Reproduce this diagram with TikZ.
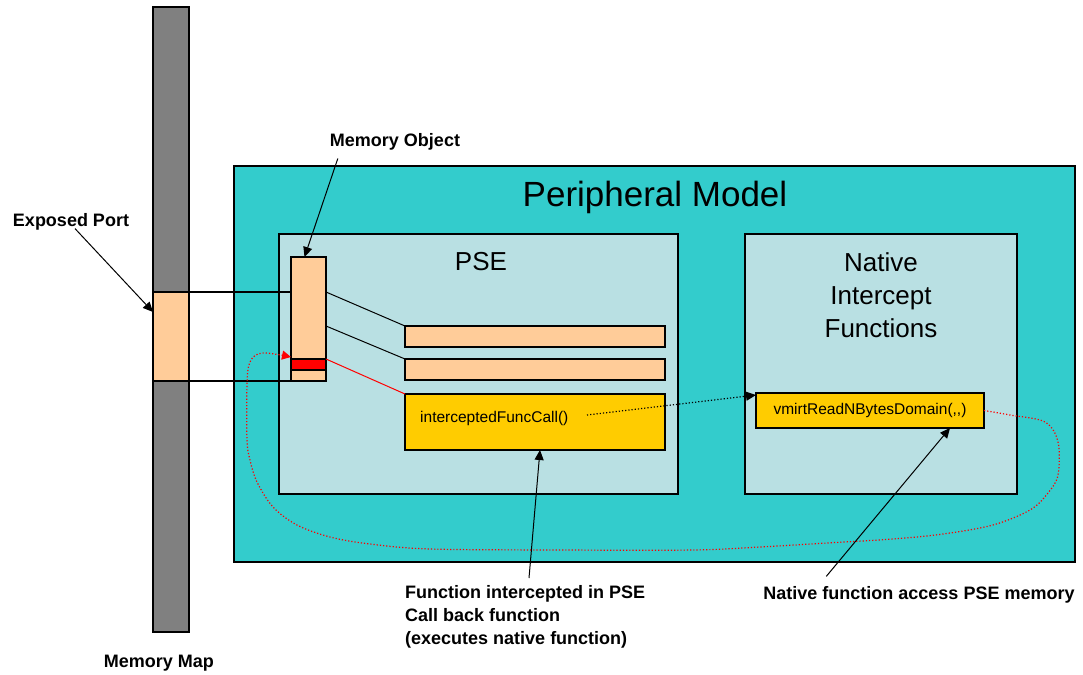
\documentclass[tikz,border=0pt]{standalone}
\usepackage{fontspec}
\setmainfont{Liberation Sans}
\usetikzlibrary{arrows.meta,calc}
\definecolor{tealbg}{HTML}{33CCCC}
\definecolor{pale}{HTML}{B9E0E3}
\definecolor{peach}{HTML}{FFCC99}
\definecolor{gold}{HTML}{FFCC00}
\definecolor{mapgray}{HTML}{808080}
\begin{document}
\begin{tikzpicture}[x=1pt,y=-1pt,
  rbox/.style={draw=black, line width=2pt, inner sep=0pt, outer sep=0pt, anchor=north west},
  lbl/.style={font=\bfseries\fontsize{18}{23}\selectfont, inner sep=0pt, align=left},
  tip/.style={-{Triangle[length=10pt,width=9pt]}},
  conn/.style={line width=1pt},
  title/.style={inner sep=0pt, align=center},
]
\useasboundingbox (0,0) rectangle (1083,674);
% memory map bar
\node[rbox, line width=1.2pt, fill=mapgray, minimum width=36pt, minimum height=625pt] (map) at (153,7) {};
\node[rbox, line width=1.2pt, fill=peach, minimum width=36pt, minimum height=89pt] (port) at (153,292) {};
% peripheral model
\node[rbox, fill=tealbg, minimum width=841pt, minimum height=396pt] (pm) at (234,166) {};
\node[rbox, fill=pale, minimum width=399pt, minimum height=260pt] (pse) at (279,234) {};
\node[rbox, fill=pale, minimum width=272pt, minimum height=260pt] (nat) at (745,234) {};
% memory object
\node[rbox, fill=peach, minimum width=35pt, minimum height=124pt] (mo) at (291,257) {};
\node[rbox, fill=red, minimum width=35pt, minimum height=11pt] (mored) at (291,359) {};
% PSE bars
\node[rbox, fill=peach, minimum width=260pt, minimum height=21pt] (bar1) at (405,326) {};
\node[rbox, fill=peach, minimum width=260pt, minimum height=21pt] (bar2) at (405,359) {};
\node[rbox, fill=gold, minimum width=260pt, minimum height=56pt] (yb) at (405,394) {};
\node[rbox, fill=gold, minimum width=228pt, minimum height=35pt] (vm) at (756,393) {};
% texts inside
\node[title, font=\fontsize{35}{40}\selectfont] (pmt) at (655,197) {Peripheral Model};
\node[title, font=\fontsize{26}{30}\selectfont] (pset) at (481,262) {PSE};
\node[title, font=\fontsize{26}{33}\selectfont] (natt) at (881,295) {Native\\Intercept\\Functions};
\node[inner sep=0pt, anchor=west, font=\fontsize{15.5}{18}\selectfont] (ic) at (420,418) {interceptedFuncCall()};
\node[inner sep=0pt, font=\fontsize{15.5}{18}\selectfont] (vmt) at (vm.center) {vmirtReadNBytesDomain(,{},)};
% port lines
\draw[line width=2.5pt] (port.north east) -- (port.north east -| mo.west);
\draw[line width=2.5pt] (port.south east) -- (port.south east -| mo.west);
% memory object to bars
\draw[conn] (mo.north east |- port.north east) -- (bar1.north west);
\draw[conn] (mo.north east |- bar1.north west) -- (bar2.north west);
\draw[conn, red] (mored.north east) -- (yb.north west);
% dotted call
\coordinate (icend) at (587,415);
\draw[dotted, line width=1.2pt, tip] (icend) -- ($(vm.north west)+(0,2)$);
% red dotted return curve
\draw[red, dotted, line width=1.2pt, -{Triangle[length=9pt,width=9pt]}] plot[smooth, tension=0.55] coordinates {(vm.east) (1010,415) (1045,422) (1058,442) (1058,475) (1048,493) (1030,510) (993,525) (943,534) (893,539) (827,543) (760,547) (693,550) (560,550) (430,549) (370,544) (330,537) (297,525) (273,507) (257,482) (250,460) (247,440) (247,385) (250,362) (262,353) ($(mored.north west)+(0,-2)$)};
% labels
\node[lbl] (ep) at (71,222) {Exposed Port};
\node[lbl] (mol) at (395,142) {Memory Object};
\node[lbl, anchor=north west] (fl) at (405,585) {Function intercepted in PSE\\Call back function\\(executes native function)};
\node[lbl] (nl) at (919,595) {Native function access PSE memory};
\node[lbl] (mml) at (159,663) {Memory Map};
% label arrows
\draw[conn, tip] ($(ep.south)+(4,-2)$) -- ($(port.north west)+(0,20)$);
\draw[conn, tip] ($(mol.south west)+(8,8)$) -- ($(mo.north)+(-4,0)$);
\draw[conn, tip] ($(fl.north west)+(124,-7)$) -- ($(yb.south)+(5,0)$);
\draw[conn, tip] ($(nl.north west)+(63,-10)$) -- ($(vm.south east)+(-34,0)$);
\end{tikzpicture}
\end{document}
